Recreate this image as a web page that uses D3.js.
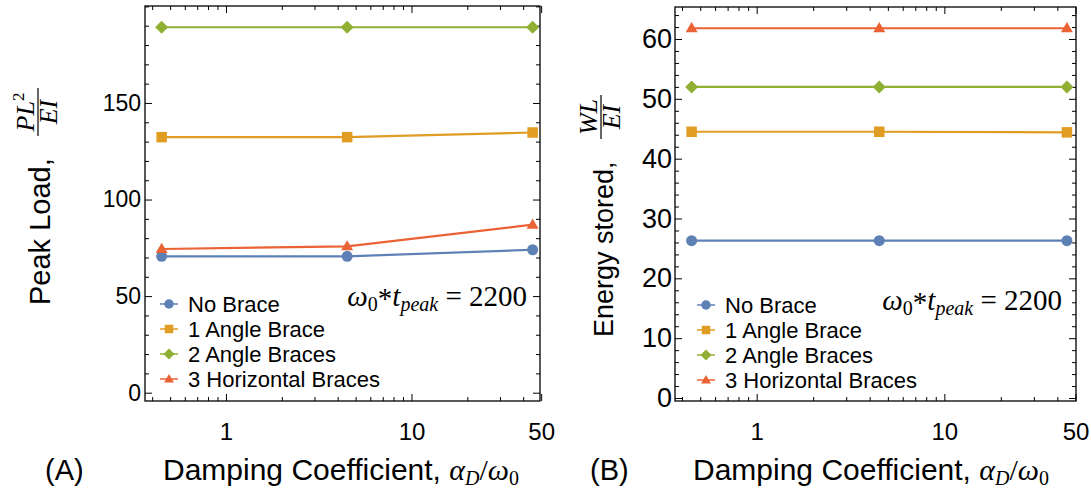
<!DOCTYPE html>
<html>
<head>
<meta charset="utf-8">
<script src="https://cdn.jsdelivr.net/npm/d3@7"></script>
<style>
  html, body { margin: 0; padding: 0; background: #fff; }
  svg { display: block; }
</style>
</head>
<body>
<svg id="chart" width="1091" height="493"></svg>
<script>
// ---------------- DATA ----------------
const dampingRatio = [0.45, 4.5, 45];            // alpha_D / omega_0
const seriesNames = ["No Brace", "1 Angle Brace", "2 Angle Braces", "3 Horizontal Braces"];
const seriesColors = ["#5E81B5", "#E19C24", "#8FB032", "#EB6235"];
const seriesMarkers = ["circle", "square", "diamond", "triangle"];

// Panel A: peak load  P L^2 / (E I)
const peakNoBrace   = [70.6, 70.6, 74.0];
const peak1Angle    = [132.3, 132.3, 134.7];
const peak2Angles   = [189.2, 189.2, 189.2];
const peak3Horiz    = [74.4, 75.8, 87.0];

// Panel B: energy stored  W L / (E I)
const energyNoBrace = [26.3, 26.3, 26.3];
const energy1Angle  = [44.5, 44.5, 44.4];
const energy2Angles = [52.0, 52.0, 52.0];
const energy3Horiz  = [61.8, 61.8, 61.8];

const xMajorTicks = [1, 10, 50];
const xMinorTicks = [0.4, 0.5, 0.6, 0.7, 0.8, 0.9, 2, 3, 4, 5, 6, 7, 8, 9, 20, 30, 40];
const peakMajorTicks = [0, 50, 100, 150];
const energyMajorTicks = [0, 10, 20, 30, 40, 50, 60];

// ---------------- DRAW ----------------
const svg = d3.select("#chart");
const sans = "'Liberation Sans', Arial, sans-serif";
const serif = "'Liberation Serif', 'Times New Roman', serif";

function markerPath(type, s) {
  if (type === "circle") return d3.symbol(d3.symbolCircle, Math.PI * s * s / 4)();
  if (type === "square") return d3.symbol(d3.symbolSquare, s * s)();
  if (type === "diamond") {
    const h = s / 2;
    return `M0,${-h}L${h},0L0,${h}L${-h},0Z`;
  }
  const h = s * 0.85;
  return `M0,${-h * 0.6}L${s / 2},${h * 0.4}L${-s / 2},${h * 0.4}Z`;
}

function drawPanel(cfg) {
  const g = svg.append("g");
  const x = d3.scaleLog().domain(cfg.xDomain).range([cfg.left, cfg.right]);
  const y = d3.scaleLinear().domain(cfg.yDomain).range([cfg.bottom, cfg.top]);

  g.append("rect")
    .attr("x", cfg.left).attr("y", cfg.top)
    .attr("width", cfg.right - cfg.left).attr("height", cfg.bottom - cfg.top)
    .attr("fill", "none").attr("stroke", "#000").attr("stroke-width", 1.3);

  const styleAxis = sel => {
    sel.select(".domain").remove();
    sel.selectAll(".tick line").attr("stroke", "#000").attr("stroke-width", 1);
  };
  const minorX = xMinorTicks.filter(v => x(v) >= cfg.left);

  g.append("g").attr("transform", `translate(0,${cfg.bottom})`)
    .call(d3.axisBottom(x).tickValues(xMajorTicks).tickFormat(d3.format("d"))
      .tickSizeInner(-7).tickSizeOuter(0).tickPadding(cfg.xTickPad))
    .call(styleAxis)
    .call(s => s.selectAll("text").attr("font-family", sans).attr("font-size", cfg.xTickFont).attr("fill", "#000"));
  g.append("g").attr("transform", `translate(0,${cfg.bottom})`)
    .call(d3.axisBottom(x).tickValues(minorX).tickFormat("").tickSizeInner(-4).tickSizeOuter(0))
    .call(styleAxis);
  g.append("g").attr("transform", `translate(0,${cfg.top})`)
    .call(d3.axisTop(x).tickValues(xMajorTicks).tickFormat("").tickSizeInner(-7).tickSizeOuter(0))
    .call(styleAxis);
  g.append("g").attr("transform", `translate(0,${cfg.top})`)
    .call(d3.axisTop(x).tickValues(minorX).tickFormat("").tickSizeInner(-4).tickSizeOuter(0))
    .call(styleAxis);

  const yMinor = d3.range(cfg.yMinorStep, cfg.yDomain[1], cfg.yMinorStep)
    .filter(v => !cfg.yMajor.includes(v));

  g.append("g").attr("transform", `translate(${cfg.left},0)`)
    .call(d3.axisLeft(y).tickValues(cfg.yMajor).tickFormat(d3.format("d"))
      .tickSizeInner(-7).tickSizeOuter(0).tickPadding(cfg.yTickPad))
    .call(styleAxis)
    .call(s => s.selectAll("text").attr("font-family", sans).attr("font-size", cfg.yTickFont).attr("fill", "#000"));
  g.append("g").attr("transform", `translate(${cfg.left},0)`)
    .call(d3.axisLeft(y).tickValues(yMinor).tickFormat("").tickSizeInner(-4).tickSizeOuter(0))
    .call(styleAxis);
  g.append("g").attr("transform", `translate(${cfg.right},0)`)
    .call(d3.axisRight(y).tickValues(cfg.yMajor).tickFormat("").tickSizeInner(-7).tickSizeOuter(0))
    .call(styleAxis);
  g.append("g").attr("transform", `translate(${cfg.right},0)`)
    .call(d3.axisRight(y).tickValues(yMinor).tickFormat("").tickSizeInner(-4).tickSizeOuter(0))
    .call(styleAxis);

  const line = d3.line().x((d, i) => x(dampingRatio[i])).y(d => y(d));
  const markerSizes = { circle: 11, square: 10.5, diamond: 13, triangle: 12 };
  cfg.series.forEach((vals, si) => {
    g.append("path").datum(vals).attr("d", line)
      .attr("fill", "none").attr("stroke", seriesColors[si]).attr("stroke-width", 2.2);
    g.selectAll(null).data(vals).enter().append("path")
      .attr("transform", (d, i) => `translate(${x(dampingRatio[i])},${y(d)})`)
      .attr("d", markerPath(seriesMarkers[si], markerSizes[seriesMarkers[si]]))
      .attr("fill", seriesColors[si]);
  });

  const legMarkerSizes = { circle: 9.5, square: 8.5, diamond: 11, triangle: 10 };
  seriesNames.forEach((name, si) => {
    const ly = cfg.legendY + si * 25;
    g.append("line").attr("x1", cfg.legendX - 9).attr("x2", cfg.legendX + 9)
      .attr("y1", ly).attr("y2", ly).attr("stroke", seriesColors[si]).attr("stroke-width", 1.5);
    g.append("path").attr("transform", `translate(${cfg.legendX},${ly})`)
      .attr("d", markerPath(seriesMarkers[si], legMarkerSizes[seriesMarkers[si]]))
      .attr("fill", seriesColors[si]);
    g.append("text").attr("x", cfg.legendX + 19).attr("y", ly + 8)
      .attr("font-family", sans).attr("font-size", 22).attr("fill", "#000").text(name);
  });

  const ann = g.append("text").attr("x", cfg.annX).attr("y", cfg.annY)
    .attr("text-anchor", "end").attr("font-family", serif).attr("font-size", 29)
    .attr("fill", "#000").attr("xml:space", "preserve").style("white-space", "pre");
  ann.append("tspan").attr("font-style", "italic").text("ω");
  ann.append("tspan").attr("font-size", 20).attr("dy", 5).text("0");
  ann.append("tspan").attr("dy", -3).text("*");
  ann.append("tspan").attr("dy", -2).attr("font-style", "italic").text("t");
  ann.append("tspan").attr("font-style", "italic").attr("font-size", 20).attr("dy", 5).text("peak");
  ann.append("tspan").attr("dy", -5).text(" = 2200");

  const xt = g.append("text").attr("x", cfg.xTitleX).attr("y", cfg.xTitleY)
    .attr("font-family", sans).attr("font-size", 30).attr("fill", "#000");
  xt.append("tspan").text("Damping Coefficient, ");
  xt.append("tspan").attr("font-family", serif).attr("font-style", "italic").text("α");
  xt.append("tspan").attr("font-family", serif).attr("font-style", "italic").attr("font-size", 20).attr("dy", 5).text("D");
  xt.append("tspan").attr("font-family", serif).attr("dy", -5).text("/");
  xt.append("tspan").attr("font-family", serif).attr("font-style", "italic").text("ω");
  xt.append("tspan").attr("font-family", serif).attr("font-size", 20).attr("dy", 5).text("0");

  g.append("text").attr("x", cfg.panelLabelX).attr("y", cfg.xTitleY)
    .attr("font-family", sans).attr("font-size", 29).attr("fill", "#000").text(cfg.panelLabel);

  const yg = g.append("g").attr("transform", `translate(${cfg.yTitleX},${cfg.yTitleStartY}) rotate(-90)`);
  yg.append("text").attr("x", 0).attr("y", 0)
    .attr("font-family", sans).attr("font-size", cfg.yTitleFont).attr("fill", "#000").text(cfg.yTitle);
  const fr = yg.append("g").attr("transform", `translate(${cfg.fracU},0)`);
  const num = fr.append("text").attr("x", 0).attr("y", -16).attr("text-anchor", "middle")
    .attr("font-family", serif).attr("font-style", "italic").attr("font-size", 26).attr("fill", "#000");
  num.append("tspan").text(cfg.fracNum);
  if (cfg.fracNumSup) num.append("tspan").attr("font-style", "normal").attr("font-size", 17).attr("dy", -10).text(cfg.fracNumSup);
  fr.append("line").attr("x1", -cfg.fracW / 2).attr("x2", cfg.fracW / 2).attr("y1", -12).attr("y2", -12)
    .attr("stroke", "#000").attr("stroke-width", 1.2);
  fr.append("text").attr("x", 0).attr("y", 7).attr("text-anchor", "middle")
    .attr("font-family", serif).attr("font-style", "italic").attr("font-size", 26).attr("fill", "#000")
    .text("EI");
}

drawPanel({
  left: 145, right: 540, top: 6, bottom: 401,
  xDomain: [0.366, 49.3], yDomain: [-4.3, 200.2],
  yMajor: peakMajorTicks, yMinorStep: 10,
  xTickFont: 24, yTickFont: 23, xTickPad: 22, yTickPad: 4,
  series: [peakNoBrace, peak1Angle, peak2Angles, peak3Horiz],
  legendX: 169, legendY: 304,
  annX: 527, annY: 306,
  xTitleX: 163, xTitleY: 480, panelLabelX: 45, panelLabel: "(A)",
  yTitleX: 50, yTitleStartY: 305, yTitle: "Peak Load,", yTitleFont: 29,
  fracU: 193, fracW: 48, fracNum: "PL", fracNumSup: "2"
});

drawPanel({
  left: 675, right: 1076, top: 7, bottom: 401,
  xDomain: [0.367, 50.3], yDomain: [-0.5, 65.35],
  yMajor: energyMajorTicks, yMinorStep: 2,
  xTickFont: 24, yTickFont: 27, xTickPad: 22, yTickPad: 3,
  series: [energyNoBrace, energy1Angle, energy2Angles, energy3Horiz],
  legendX: 706, legendY: 305,
  annX: 1062, annY: 310,
  xTitleX: 693, xTitleY: 480, panelLabelX: 590, panelLabel: "(B)",
  yTitleX: 613, yTitleStartY: 337, yTitle: "Energy stored,", yTitleFont: 27,
  fracU: 220, fracW: 44, fracNum: "WL", fracNumSup: null
});
</script>
</body>
</html>
